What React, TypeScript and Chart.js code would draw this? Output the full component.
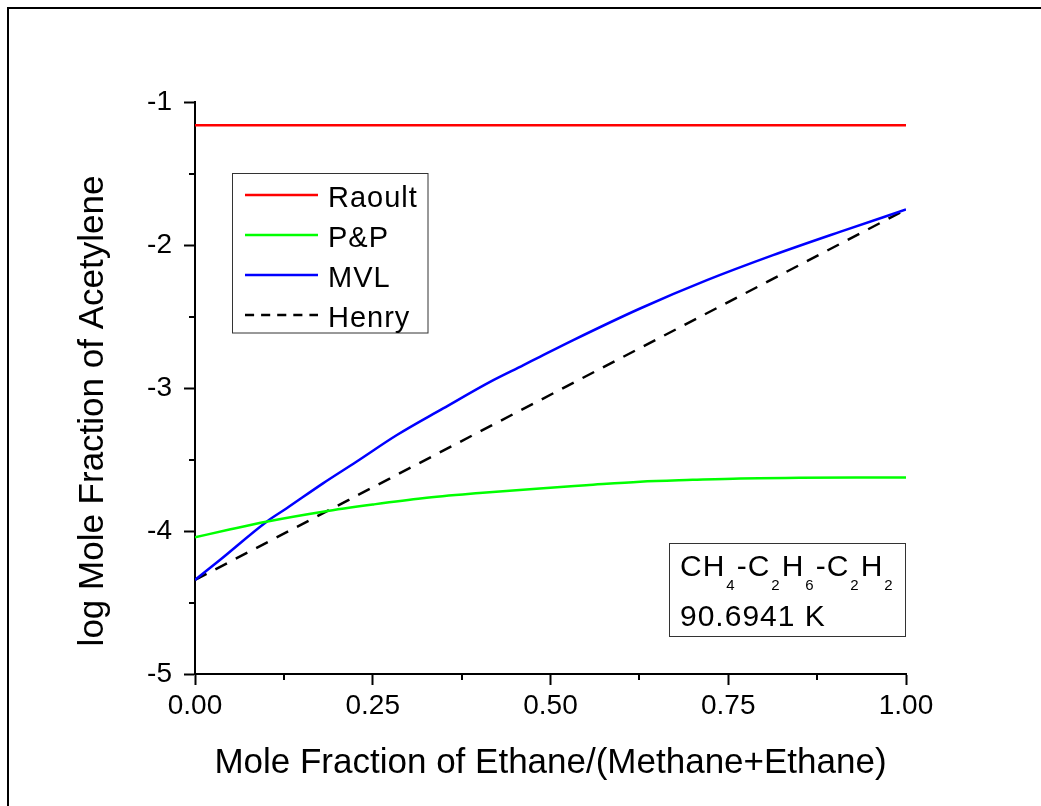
import React, { useEffect, useRef } from 'react';
import { Chart, registerables } from 'chart.js';

Chart.register(...registerables);

// ---- data ----
const seriesLabels = ['Raoult', 'P&P', 'MVL', 'Henry'];
const seriesColors = ['#ff0000', '#00ff00', '#0000ff', '#000000'];

const raoultX = [0, 1];
const raoultY = [-1.163, -1.163];

const ppX = [0, 0.05, 0.1, 0.18, 0.25, 0.32, 0.4, 0.485, 0.55, 0.626, 0.7, 0.767, 0.85, 0.93, 1.0];
const ppY = [-4.044, -3.988, -3.935, -3.865, -3.815, -3.771, -3.735, -3.702, -3.68, -3.655, -3.642, -3.632, -3.628, -3.626, -3.625];

const mvlX = [0, 0.035, 0.1008, 0.129, 0.18, 0.227, 0.284, 0.349, 0.415, 0.462, 0.485, 0.532, 0.626, 0.72, 0.813, 0.907, 1.0];
const mvlY = [-4.342, -4.203, -3.935, -3.841, -3.667, -3.516, -3.329, -3.143, -2.957, -2.84, -2.782, -2.665, -2.444, -2.246, -2.071, -1.908, -1.752];

const henryX = [0, 1];
const henryY = [-4.342, -1.752];

const xMin = 0;
const xMax = 1;
const xStep = 0.25;
const xMinorTicks = [0.125, 0.375, 0.625, 0.875];
const yMin = -5;
const yMax = -1;
const yStep = 1;
const yMinorTicks = [-1.5, -2.5, -3.5, -4.5];

const xTitle = 'Mole Fraction of Ethane/(Methane+Ethane)';
const yTitle = 'log Mole Fraction of Acetylene';

const systemParts: { t: string; sub?: boolean }[] = [
  { t: 'CH' }, { t: '4', sub: true }, { t: '-C' }, { t: '2', sub: true }, { t: 'H' }, { t: '6', sub: true },
  { t: '-C' }, { t: '2', sub: true }, { t: 'H' }, { t: '2', sub: true },
];
const temperatureLabel = '90.6941 K';

const FONT = '"Liberation Sans", Arial, sans-serif';

const pts = (xs: number[], ys: number[]) => xs.map((x, i) => ({ x, y: ys[i] }));

const decorPlugin = {
  id: 'decor',
  afterDraw(chart: any) {
    const { ctx, chartArea, scales } = chart;
    const xs = scales.x;
    const ys = scales.y;
    ctx.save();
    // minor ticks
    ctx.strokeStyle = '#000';
    ctx.lineWidth = 2;
    ctx.beginPath();
    xMinorTicks.forEach((v) => {
      const px = Math.round(xs.getPixelForValue(v));
      ctx.moveTo(px, chartArea.bottom);
      ctx.lineTo(px, chartArea.bottom + 6);
    });
    yMinorTicks.forEach((v) => {
      const py = Math.round(ys.getPixelForValue(v));
      ctx.moveTo(chartArea.left, py);
      ctx.lineTo(chartArea.left - 6, py);
    });
    ctx.stroke();

    // axis titles
    ctx.fillStyle = '#000';
    ctx.font = `35px ${FONT}`;
    ctx.textAlign = 'center';
    ctx.textBaseline = 'alphabetic';
    ctx.fillText(xTitle, (chartArea.left + chartArea.right) / 2, 773);
    ctx.save();
    ctx.translate(103, 411);
    ctx.rotate(-Math.PI / 2);
    ctx.fillText(yTitle, 0, 0);
    ctx.restore();

    // legend
    const lx = 232.5, ly = 173.5, lw = 195.5, lh = 159.5;
    ctx.fillStyle = '#fff';
    ctx.fillRect(lx, ly, lw, lh);
    ctx.strokeStyle = '#333';
    ctx.lineWidth = 1;
    ctx.strokeRect(lx, ly, lw, lh);
    ctx.font = `29px ${FONT}`;
    ctx.textAlign = 'left';
    (ctx as any).letterSpacing = '1px';
    chart.data.datasets.forEach((ds: any, i: number) => {
      const rowY = 195 + i * 40;
      ctx.beginPath();
      ctx.strokeStyle = ds.borderColor;
      ctx.lineWidth = 2.5;
      const dash = (ds.borderDash || []).map((d: number) => d * 0.7);
      ctx.setLineDash(dash);
      ctx.moveTo(245, rowY);
      ctx.lineTo(318, rowY);
      ctx.stroke();
      ctx.setLineDash([]);
      ctx.fillStyle = '#000';
      ctx.fillText(ds.label, 328, rowY + 11.5);
    });

    // annotation box
    const ax = 669.5, ay = 543.5, aw = 236, ah = 93;
    ctx.fillStyle = '#fff';
    ctx.fillRect(ax, ay, aw, ah);
    ctx.strokeStyle = '#333';
    ctx.lineWidth = 1;
    ctx.strokeRect(ax, ay, aw, ah);
    ctx.fillStyle = '#000';
    let cx = 680;
    systemParts.forEach((p) => {
      if (p.sub) {
        ctx.font = `15px ${FONT}`;
        (ctx as any).letterSpacing = '0px';
        ctx.fillText(p.t, cx + 1, 590);
        cx += ctx.measureText(p.t).width + 3;
      } else {
        ctx.font = `30px ${FONT}`;
        (ctx as any).letterSpacing = '1px';
        ctx.fillText(p.t, cx, 576);
        cx += ctx.measureText(p.t).width;
      }
    });
    ctx.font = `30px ${FONT}`;
    (ctx as any).letterSpacing = '1px';
    ctx.fillText(temperatureLabel, 680, 626);
    (ctx as any).letterSpacing = '0px';
    ctx.restore();
  },
};

export default function App() {
  const canvasRef = useRef<HTMLCanvasElement | null>(null);

  useEffect(() => {
    if (!canvasRef.current) return;
    const xsArr = [raoultX, ppX, mvlX, henryX];
    const ysArr = [raoultY, ppY, mvlY, henryY];
    const chart = new Chart(canvasRef.current, {
      type: 'scatter',
      data: {
        datasets: seriesLabels.map((label, i) => ({
          label,
          data: pts(xsArr[i], ysArr[i]),
          showLine: true,
          borderColor: seriesColors[i],
          backgroundColor: seriesColors[i],
          borderWidth: 2.5,
          borderDash: label === 'Henry' ? [13, 10] : [],
          pointRadius: 0,
          pointHoverRadius: 0,
          cubicInterpolationMode: 'monotone',
          fill: false,
        })),
      },
      options: {
        responsive: false,
        animation: false,
        events: [],
        layout: { padding: { top: 102, right: 135, left: 0, bottom: 0 } },
        plugins: {
          legend: { display: false },
          tooltip: { enabled: false },
          title: { display: false },
        },
        scales: {
          x: {
            type: 'linear',
            min: xMin,
            max: xMax,
            afterFit: (s: any) => { s.height = 132; },
            ticks: {
              stepSize: xStep,
              padding: 4,
              color: '#000',
              font: { family: FONT, size: 28 },
              maxRotation: 0,
              callback: (v: any) => Number(v).toFixed(2),
            },
            grid: { display: true, drawOnChartArea: false, drawTicks: true, tickLength: 11, tickWidth: 2, tickColor: '#000' },
            border: { display: true, color: '#000', width: 2 },
          },
          y: {
            type: 'linear',
            min: yMin,
            max: yMax,
            afterFit: (s: any) => { s.width = 195; },
            ticks: {
              stepSize: yStep,
              padding: 12,
              color: '#000',
              font: { family: FONT, size: 28 },
              callback: (v: any) => String(v),
            },
            grid: { display: true, drawOnChartArea: false, drawTicks: true, tickLength: 11, tickWidth: 2, tickColor: '#000' },
            border: { display: true, color: '#000', width: 2 },
          },
        },
      },
      plugins: [decorPlugin],
    } as any);
    return () => chart.destroy();
  }, []);

  return (
    <div style={{ position: 'fixed', left: 0, top: 0, width: 1041, height: 806, overflow: 'hidden', background: '#fff' }}>
      <div style={{ position: 'absolute', left: 7, top: 7, width: 1034, height: 799, borderTop: '2px solid #000', borderLeft: '2px solid #000', boxSizing: 'border-box', pointerEvents: 'none' }} />
      <canvas ref={canvasRef} width={1041} height={806} style={{ position: 'absolute', left: 0, top: 0, width: 1041, height: 806 }} />
    </div>
  );
}
